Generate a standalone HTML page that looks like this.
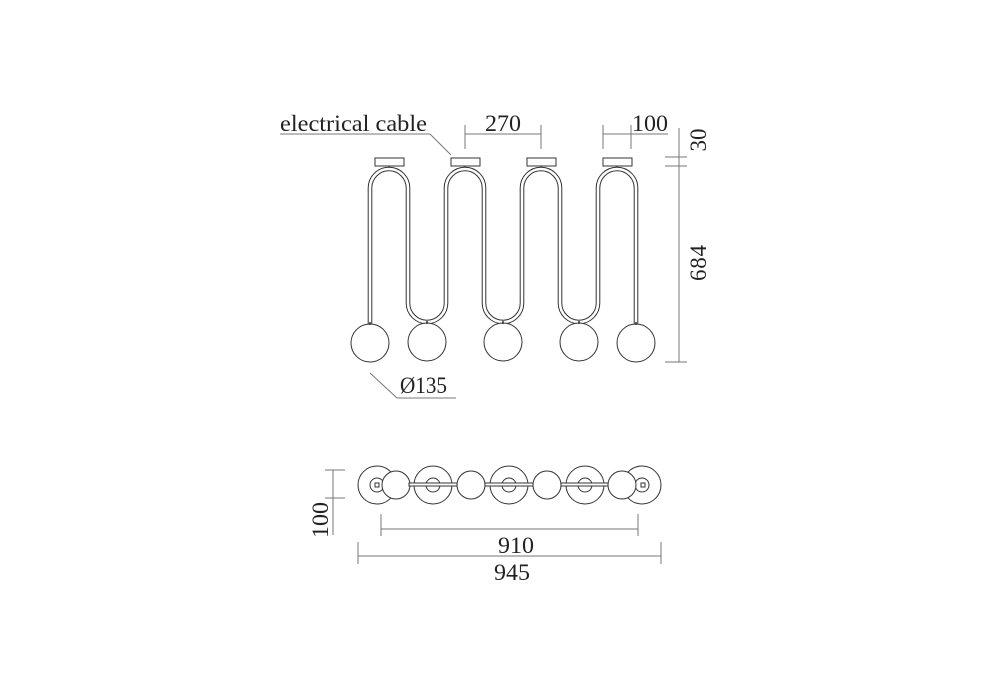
<!DOCTYPE html>
<html><head><meta charset="utf-8"><style>
html,body{margin:0;padding:0;background:#fff;}
svg{display:block;}
text{font-family:"Liberation Serif",serif;fill:#222;}
</style></head><body>
<svg width="1000" height="700" viewBox="0 0 1000 700" xmlns="http://www.w3.org/2000/svg">
<g fill="none" stroke="#333" stroke-width="1">
  <rect x="375" y="158" width="29" height="8"/>
  <rect x="451" y="158" width="29" height="8"/>
  <rect x="527" y="158" width="29" height="8"/>
  <rect x="603" y="158" width="29" height="8"/>
  <line x1="389" y1="166" x2="389" y2="169"/>
  <line x1="465" y1="166" x2="465" y2="169"/>
  <line x1="541" y1="166" x2="541" y2="169"/>
  <line x1="617" y1="166" x2="617" y2="169"/>
</g>
<path d="M370 324 L370 188 A19 19 0 0 1 408 188 L408 303 A19 19 0 0 0 446 303 L446 188 A19 19 0 0 1 484 188 L484 303 A19 19 0 0 0 522 303 L522 188 A19 19 0 0 1 560 188 L560 303 A19 19 0 0 0 598 303 L598 188 A19 19 0 0 1 636 188 L636 324" fill="none" stroke="#333" stroke-width="4.6"/>
<path d="M370 324 L370 188 A19 19 0 0 1 408 188 L408 303 A19 19 0 0 0 446 303 L446 188 A19 19 0 0 1 484 188 L484 303 A19 19 0 0 0 522 303 L522 188 A19 19 0 0 1 560 188 L560 303 A19 19 0 0 0 598 303 L598 188 A19 19 0 0 1 636 188 L636 324" fill="none" stroke="#fff" stroke-width="2.6"/>
<g fill="#fff" stroke="#333" stroke-width="1">
  <circle cx="370" cy="343" r="19"/>
  <circle cx="427" cy="342" r="19"/>
  <circle cx="503" cy="342" r="19"/>
  <circle cx="579" cy="342" r="19"/>
  <circle cx="636" cy="343" r="19"/>
</g>
<g stroke="#333" stroke-width="1.5">
  <line x1="370" y1="322" x2="370" y2="325"/><line x1="427" y1="321" x2="427" y2="324"/>
  <line x1="503" y1="321" x2="503" y2="324"/><line x1="579" y1="321" x2="579" y2="324"/>
  <line x1="636" y1="322" x2="636" y2="325"/>
</g>
<g stroke="#777" stroke-width="1" fill="none">
  <polyline points="280,134 430,134 451,155"/>
  <line x1="465" y1="134" x2="541" y2="134"/>
  <line x1="465" y1="125" x2="465" y2="149"/>
  <line x1="541" y1="125" x2="541" y2="149"/>
  <line x1="603" y1="134" x2="668" y2="134"/>
  <line x1="603" y1="125" x2="603" y2="149"/>
  <line x1="631" y1="125" x2="631" y2="149"/>
  <line x1="679" y1="128" x2="679" y2="362"/>
  <line x1="665" y1="157" x2="687" y2="157"/>
  <line x1="665" y1="166" x2="687" y2="166"/>
  <line x1="665" y1="362" x2="687" y2="362"/>
  <polyline points="370,373 397,398 456,398"/>
</g>
<g font-size="23">
  <text x="280" y="131" textLength="147" lengthAdjust="spacingAndGlyphs">electrical cable</text>
  <text x="485" y="131" textLength="36" lengthAdjust="spacingAndGlyphs">270</text>
  <text x="632" y="131" textLength="36" lengthAdjust="spacingAndGlyphs">100</text>
  <text transform="translate(706,140) rotate(-90)" text-anchor="middle">30</text>
  <text transform="translate(706,263) rotate(-90)" textLength="36" text-anchor="middle">684</text>
  <text x="400" y="393" textLength="47" lengthAdjust="spacingAndGlyphs">Ø135</text>
</g>
<g fill="none" stroke="#333" stroke-width="1">
  <circle cx="377" cy="485" r="19"/><circle cx="377" cy="485" r="7"/>
  <circle cx="433" cy="485" r="19"/><circle cx="433" cy="485" r="7"/>
  <circle cx="509" cy="485" r="19"/><circle cx="509" cy="485" r="7"/>
  <circle cx="585" cy="485" r="19"/><circle cx="585" cy="485" r="7"/>
  <circle cx="642" cy="485" r="19"/><circle cx="642" cy="485" r="7"/>
  <circle cx="396" cy="485" r="14" fill="#fff"/>
  <circle cx="471" cy="485" r="14" fill="#fff"/>
  <circle cx="547" cy="485" r="14" fill="#fff"/>
  <circle cx="622" cy="485" r="14" fill="#fff"/>
  <rect x="409" y="483" width="48" height="3" fill="#fff"/>
  <rect x="485" y="483" width="48" height="3" fill="#fff"/>
  <rect x="561" y="483" width="47" height="3" fill="#fff"/>
  <rect x="375" y="483" width="4" height="4"/>
  <rect x="641" y="483" width="4" height="4"/>
</g>
<g stroke="#777" stroke-width="1" fill="none">
  <line x1="333" y1="470" x2="333" y2="535"/>
  <line x1="325" y1="470" x2="345" y2="470"/>
  <line x1="325" y1="498" x2="345" y2="498"/>
  <line x1="381" y1="529" x2="638" y2="529"/>
  <line x1="381" y1="514" x2="381" y2="536"/>
  <line x1="638" y1="514" x2="638" y2="536"/>
  <line x1="358" y1="556" x2="661" y2="556"/>
  <line x1="358" y1="542" x2="358" y2="564"/>
  <line x1="661" y1="542" x2="661" y2="564"/>
</g>
<g font-size="23">
  <text transform="translate(328,520) rotate(-90)" text-anchor="middle" textLength="36" lengthAdjust="spacingAndGlyphs">100</text>
  <text x="498" y="553" textLength="36" lengthAdjust="spacingAndGlyphs">910</text>
  <text x="494" y="580" textLength="36" lengthAdjust="spacingAndGlyphs">945</text>
</g>
</svg>
</body></html>
